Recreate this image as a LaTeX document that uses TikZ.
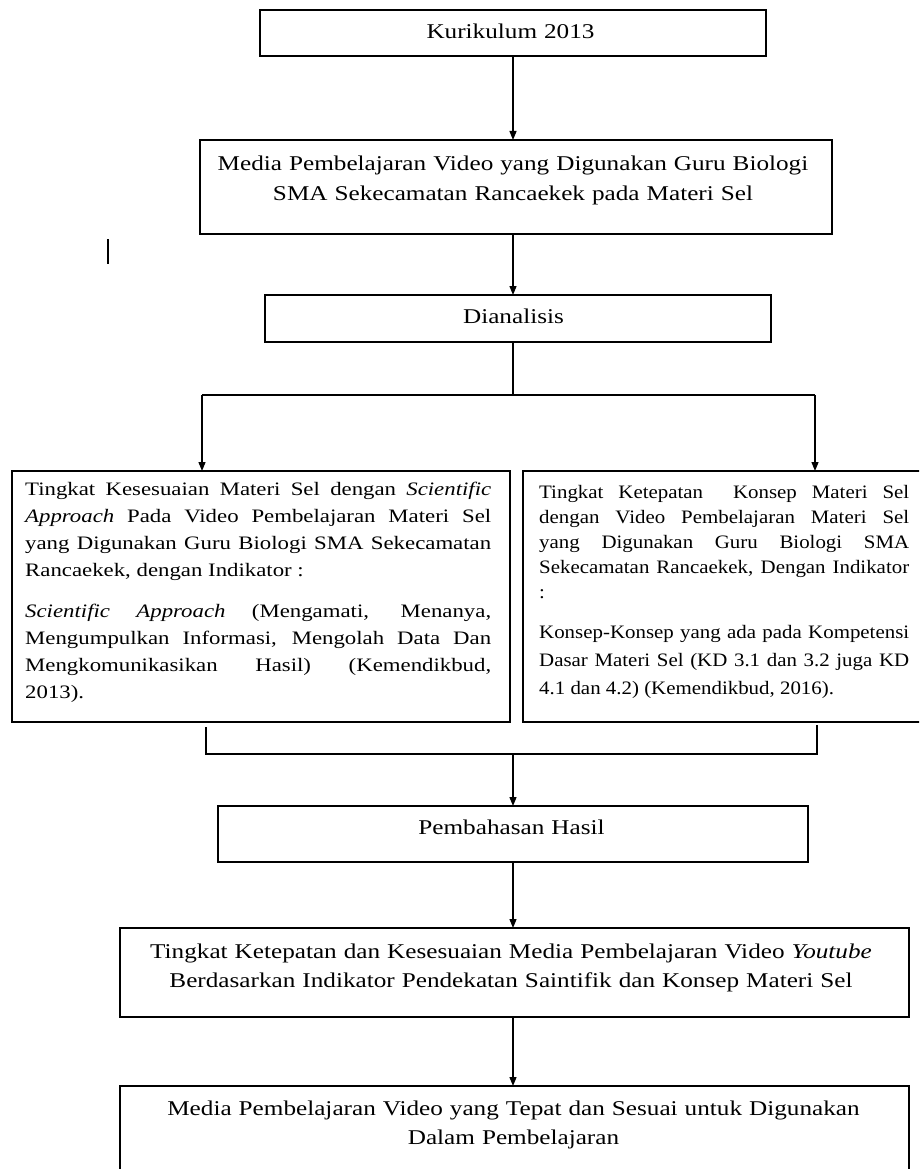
\documentclass[tikz,border=0pt]{standalone}
\usepackage{fontspec}
\setmainfont{Liberation Serif}[FakeStretch=1.2]
\newfontfamily\narrowserif{Liberation Serif}[FakeStretch=1.1]
\usetikzlibrary{arrows.meta}
\hyphenpenalty=10000
\exhyphenpenalty=10000
\begin{document}
\begin{tikzpicture}[x=1pt,y=-1pt,
  box/.style={draw, line width=1.5pt, inner sep=0pt, outer sep=0pt},
  ctext/.style={anchor=base, align=center, inner sep=0pt, font=\fontsize{21}{29.5}\selectfont},
  jtext/.style={anchor=base west, align=justify, inner sep=0pt},
  conn/.style={line width=1.3pt},
  arr/.style={line width=1.3pt, -{Triangle[length=9pt,width=7pt]}}]
\path[use as bounding box] (0,0) rectangle (919,1169);
\clip (0,0) rectangle (919,1169);
\coordinate (spine) at (513,0);
% boxes
\node[box, minimum width=506pt, minimum height=46pt] (k) at (513,33) {};
\node[box, minimum width=632pt, minimum height=94pt] (m) at (516,187) {};
\node[box, minimum width=506pt, minimum height=47pt] (d) at (518,318.5) {};
\node[box, minimum width=498pt, minimum height=251pt] (L) at (261,596.5) {};
\node[box, minimum width=407pt, minimum height=251pt] (R) at (726.5,596.5) {};
\node[box, minimum width=590pt, minimum height=56pt] (P) at (513,834) {};
\node[box, minimum width=789pt, minimum height=89pt] (T) at (514.5,972.5) {};
\node[box, minimum width=789pt, minimum height=120pt] (B) at (514.5,1146) {};
% texts
\node[ctext, text width=490pt] (tk) at (510.5,39) {Kurikulum 2013};
\node[ctext, text width=620pt] (tm) at (513,171) {Media Pembelajaran Video yang Digunakan Guru Biologi\\SMA Sekecamatan Rancaekek pada Materi Sel};
\node[ctext, text width=490pt] (td) at (513.5,323) {Dianalisis};
\node[jtext, text width=466pt, font=\fontsize{19}{27}\selectfont] (tl) at (25,495) {Tingkat Kesesuaian Materi Sel dengan \textit{Scientific}\linebreak \textit{Approach} Pada Video Pembelajaran Materi Sel\linebreak yang Digunakan Guru Biologi SMA Sekecamatan\linebreak Rancaekek, dengan Indikator :\par\vspace{14pt}\textit{Scientific Approach} (Mengamati, Menanya,\linebreak Mengumpulkan Informasi, Mengolah Data Dan\linebreak Mengkomunikasikan Hasil) (Kemendikbud,\linebreak 2013).\par};
\node[jtext, text width=370pt, font=\narrowserif\fontsize{19}{25}\selectfont] (tr) at (539,498) {Tingkat Ketepatan\ \ Konsep Materi Sel\linebreak dengan Video Pembelajaran Materi Sel\linebreak yang Digunakan Guru Biologi SMA\linebreak Sekecamatan Rancaekek, Dengan Indikator\linebreak :\par\vspace{12pt}{\fontsize{19}{28}\selectfont Konsep-Konsep yang ada pada Kompetensi\linebreak Dasar Materi Sel (KD 3.1 dan 3.2 juga KD\linebreak 4.1 dan 4.2) (Kemendikbud, 2016).\par}};
\node[ctext, text width=580pt] (tp) at (511.5,834) {Pembahasan Hasil};
\node[ctext, text width=780pt] (tt) at (511,958) {Tingkat Ketepatan dan Kesesuaian Media Pembelajaran Video \textit{Youtube}\\Berdasarkan Indikator Pendekatan Saintifik dan Konsep Materi Sel};
\node[ctext, text width=780pt] (tb) at (513.5,1115) {Media Pembelajaran Video yang Tepat dan Sesuai untuk Digunakan\\Dalam Pembelajaran};
% stray mark
\coordinate (s1) at (108,239);
\coordinate (s2) at (108,264);
\draw[line width=1.2pt] (s1) -- (s2);
% connectors
\draw[arr] (spine |- k.south) -- (spine |- m.north);
\draw[arr] (spine |- m.south) -- (spine |- d.north);
\coordinate (jt) at (513,395);
\coordinate (jl) at (202,395);
\coordinate (jr) at (815,395);
\draw[conn] (spine |- d.south) -- (jt);
\draw[conn] (jl) -- (jr);
\draw[arr] (jl) -- (jl |- L.north);
\draw[arr] (jr) -- (jr |- R.north);
\coordinate (bl) at (206,754);
\coordinate (br) at (817,754);
\coordinate (bm) at (513,754);
\draw[conn] ([yshift=-5pt]bl |- L.south) -- (bl) -- (br) -- ([yshift=-3pt]br |- R.south);
\draw[arr] (bm) -- (spine |- P.north);
\draw[arr] (spine |- P.south) -- (spine |- T.north);
\draw[arr] (spine |- T.south) -- (spine |- B.north);
\end{tikzpicture}
\end{document}
